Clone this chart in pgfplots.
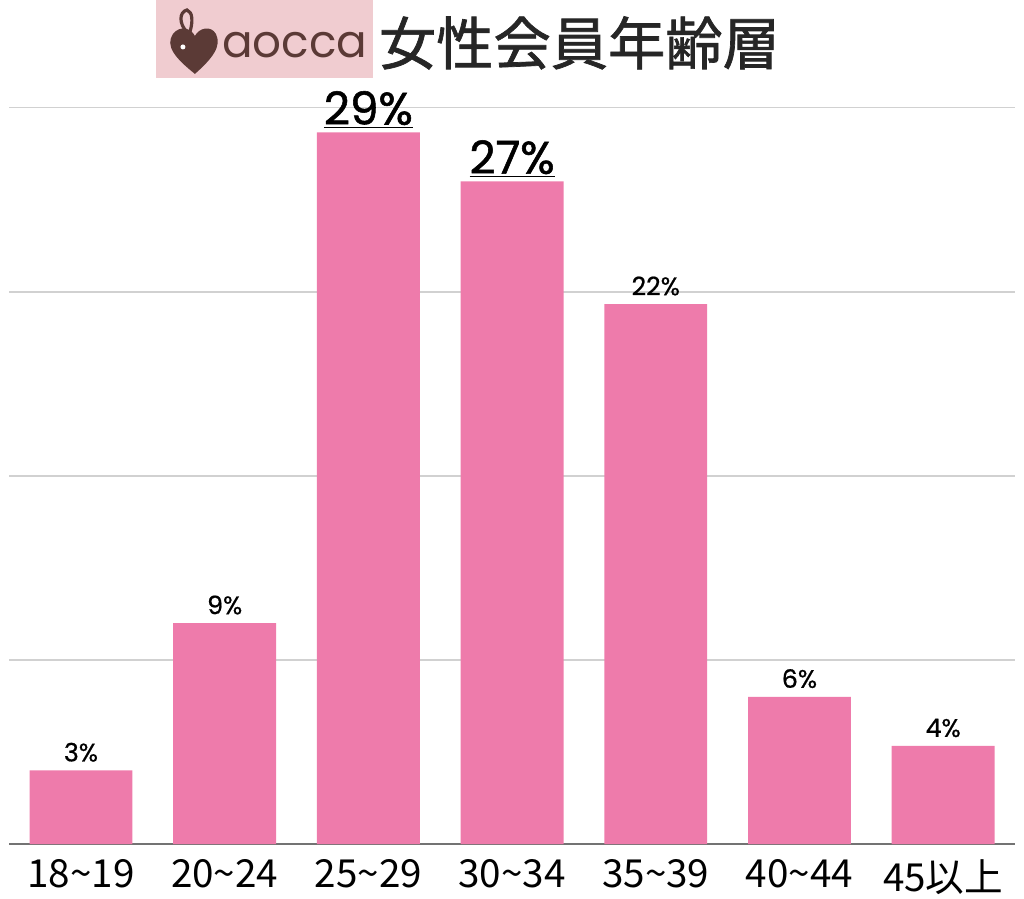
\documentclass[border=0pt]{standalone}
\usepackage{pgfplots}
\pgfplotsset{compat=1.18}
\usepackage{fontspec}
\setmainfont{Noto Sans CJK JP}
\newfontfamily\pop{Poppins}
\newfontfamily\popm[FakeBold=0.7]{Poppins}
\newfontfamily\popb[FakeBold=1.2]{Poppins}
\newfontfamily\cjk{Noto Sans CJK JP}
\newfontfamily\cjkb[FakeBold=1.2]{Noto Sans CJK JP}
\definecolor{barpink}{HTML}{EE7BAB}
\definecolor{logobg}{HTML}{F0CCD0}
\definecolor{logobrown}{HTML}{5B3A36}
\begin{document}
\begin{tikzpicture}
\begin{scope}[x=0.75pt,y=0.75pt]
\useasboundingbox (0,0) rectangle (1024,896);
% logo
\fill[logobg] (155,818) rectangle (372,896);
\fill[logobrown] (194,822) .. controls (174,838) and (164,850) .. (172,862)
  .. controls (179,871) and (190,868) .. (194,860)
  .. controls (198,868) and (210,871) .. (215,862)
  .. controls (221,850) and (212,838) .. (194,822) -- cycle;
\draw[logobrown, line width=2.4pt] (186,864) .. controls (178,872) and (178,884) .. (186,886) .. controls (192,884) and (192,874) .. (189,864);
\fill[white] (182,849) circle (2.5);
\node[anchor=west, font=\pop\fontsize{34}{34}\selectfont, text=logobrown, inner sep=0pt] at (221,851) {aocca};
% title
\node[anchor=west, font=\cjkb\fontsize{43}{45}\selectfont, text=black!85, inner sep=0pt] at (378,853) {女性会員年齢層};
\end{scope}
\begin{axis}[
  at={(6pt,38.25pt)}, anchor=south west,
  scale only axis, width=755.25pt, height=552.75pt,
  ybar, bar width=77.25pt,
  xmin=-0.5, xmax=6.5, ymin=0, ymax=30,
  ytick={7.5,15,22.5,30}, yticklabels={},
  ymajorgrids, grid style={black!18, line width=0.9pt},
  extra y ticks={0}, extra y tick labels={},
  extra y tick style={grid style={black!55, line width=1.6pt}},
  axis line style={draw=none}, major tick length=0pt, tick style={draw=none},
  xtick={0,...,6},
  xticklabels={18\textasciitilde 19,20\textasciitilde 24,25\textasciitilde 29,30\textasciitilde 34,35\textasciitilde 39,40\textasciitilde 44,45以上},
  xticklabel style={font=\cjk\fontsize{29}{30}\selectfont, text=black, yshift=-8pt},
  clip=false,
]
\addplot[fill=barpink, draw=none] coordinates {(0,3) (1,9) (2,29) (3,27) (4,22) (5,6) (6,4)};
\node[font=\popm\fontsize{19}{20}\selectfont, anchor=south, yshift=3pt] at (axis cs:0,3) {3\%};
\node[font=\popm\fontsize{19}{20}\selectfont, anchor=south, yshift=3pt] at (axis cs:1,9) {9\%};
\node[font=\popm\fontsize{19}{20}\selectfont, anchor=south, yshift=3pt] at (axis cs:4,22) {22\%};
\node[font=\popm\fontsize{19}{20}\selectfont, anchor=south, yshift=3pt] at (axis cs:5,6) {6\%};
\node[font=\popm\fontsize{19}{20}\selectfont, anchor=south, yshift=3pt] at (axis cs:6,4) {4\%};
\node[font=\popb\fontsize{34}{35}\selectfont, anchor=south, yshift=0pt] at (axis cs:2,29) {\underline{29\%}};
\node[font=\popb\fontsize{34}{35}\selectfont, anchor=south, yshift=0pt] at (axis cs:3,27) {\underline{27\%}};
\end{axis}
\end{tikzpicture}
\end{document}
